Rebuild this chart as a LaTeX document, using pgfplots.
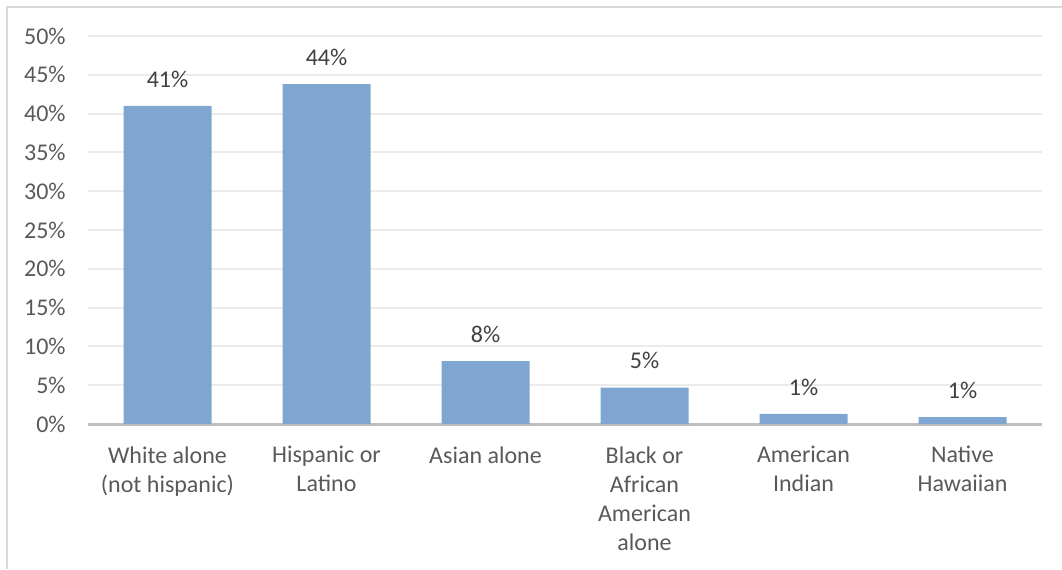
\documentclass[border=0pt]{standalone}
\usepackage{fontspec}
\setmainfont{Carlito}
\usepackage{pgfplots}
\pgfplotsset{compat=1.18}
\definecolor{barblue}{RGB}{127,166,208}
\definecolor{axisgray}{RGB}{191,191,191}
\definecolor{gridgray}{RGB}{235,235,235}
\definecolor{ticktext}{RGB}{89,89,89}
\definecolor{labeltext}{RGB}{64,64,64}
\definecolor{framegray}{RGB}{217,217,217}
\begin{document}
\begin{tikzpicture}[x=1pt,y=1pt]
\useasboundingbox (0,0) rectangle (531,284.5);
\draw[framegray, line width=1pt] (3.5,0) -- (3.5,281) -- (531,281);
\begin{axis}[
  at={(44pt,72.5pt)}, anchor=south west,
  scale only axis, width=477pt, height=194pt,
  xmin=-0.5, xmax=5.5, ymin=0, ymax=50,
  clip=false,
  axis x line*=bottom, axis y line*=left,
  x axis line style={-, draw=axisgray, line width=1.5pt},
  y axis line style={draw=none},
  major tick length=0pt,
  ytick={0,5,...,50},
  yticklabel={\pgfmathprintnumber{\tick}\%},
  /pgf/number format/assume math mode=true,
  ymajorgrids, major grid style={gridgray, line width=1pt},
  xtick=data,
  xticklabels={{White alone\\(not hispanic)},{Hispanic or\\Latino},{Asian alone},{Black or\\African\\American\\alone},{American\\Indian},{Native\\Hawaiian}},
  x tick label style={anchor=north, inner sep=0pt, yshift=-11pt, align=center, text=ticktext, font=\fontsize{12}{14.5}\selectfont},
  y tick label style={anchor=east, inner sep=0pt, xshift=-11pt, text=ticktext, font=\fontsize{12}{14.5}\selectfont},
  ybar, bar width=44pt,
  nodes near coords={\pgfmathprintnumber[fixed,precision=0]{\pgfplotspointmeta}\%},
  every node near coord/.append style={anchor=south, inner sep=0pt, yshift=9pt, text=labeltext, font=\fontsize{12}{14.5}\selectfont, /pgf/number format/assume math mode=true},
]
\addplot[fill=barblue, draw=none] coordinates {(0,41.0) (1,43.8) (2,8.1) (3,4.7) (4,1.3) (5,0.9)};
\end{axis}
\end{tikzpicture}
\end{document}
